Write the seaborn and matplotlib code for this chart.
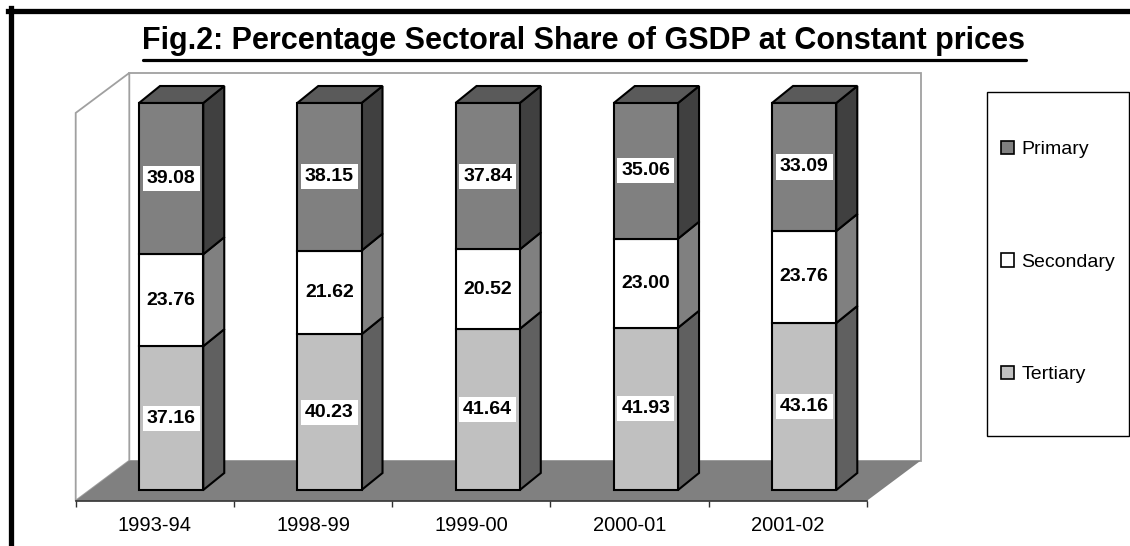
import numpy as np
import pandas as pd
import seaborn as sns
import matplotlib.pyplot as plt
from matplotlib.patches import Polygon, Rectangle, Patch
from matplotlib.lines import Line2D

# data
years = ["1993-94", "1998-99", "1999-00", "2000-01", "2001-02"]
tertiary = [37.16, 40.23, 41.64, 41.93, 43.16]
secondary = [23.76, 21.62, 20.52, 23.00, 23.76]
primary = [39.08, 38.15, 37.84, 35.06, 33.09]
sectors = ["Primary", "Secondary", "Tertiary"]

front_col = {"Tertiary": "#c0c0c0", "Secondary": "#ffffff", "Primary": "#808080"}
side_col = {"Tertiary": "#606060", "Secondary": "#808080", "Primary": "#404040"}
top_col = "#5a5a5a"

sns.set_style("white")
plt.rcParams["font.family"] = ["Liberation Sans", "DejaVu Sans"]
plt.rcParams["text.color"] = "black"
plt.rcParams["xtick.color"] = "black"
plt.rcParams["xtick.labelcolor"] = "black"
narrow = ["Liberation Sans Narrow", "Liberation Sans", "DejaVu Sans"]

W, H = 1130, 546
fig = plt.figure(figsize=(W / 100, H / 100), dpi=100)

def fx(px):
    return px / W

def fy(py):
    return 1 - py / H

ax = fig.add_axes([fx(75.7), fy(500.7), (867 - 75.7) / W, (500.7 - 60) / H])
ax.set_facecolor("none")

# fake 3d geometry (data units)
ppu = 3.87
ylo = -(500.7 - 490) / ppu
yhi = ylo + (500.7 - 60) / ppu
xlo, xhi = -0.5, 4.5
depth_x = 53.6 / 158.26
depth_y = 40 / ppu
bar_dx = 21 / 158.26
bar_dy = 17 / ppu
bar_shift = 0.103
bar_w = 0.406
wall_h = 100.2

df = pd.DataFrame({"Year": years, "Tertiary": tertiary,
                   "Secondary": secondary, "Primary": primary})
bases = {"Tertiary": np.zeros(len(years)),
         "Secondary": df["Tertiary"].to_numpy(),
         "Primary": (df["Tertiary"] + df["Secondary"]).to_numpy()}

# walls + floor
wall_kw = dict(facecolor="white", edgecolor="#a0a0a0", lw=1.3, zorder=0, clip_on=False)
ax.add_patch(Rectangle((xlo + depth_x, ylo + depth_y), xhi - xlo, wall_h, **wall_kw))
ax.add_patch(Polygon([(xlo, ylo), (xlo, ylo + wall_h),
                      (xlo + depth_x, ylo + depth_y + wall_h),
                      (xlo + depth_x, ylo + depth_y)], **wall_kw))
ax.add_patch(Polygon([(xlo, ylo), (xhi, ylo), (xhi + depth_x, ylo + depth_y),
                      (xlo + depth_x, ylo + depth_y)],
                     facecolor="#808080", edgecolor="none", zorder=0.5, clip_on=False))

for sec in ["Tertiary", "Secondary", "Primary"]:
    sns.barplot(data=df, x="Year", y=sec, bottom=bases[sec], color=front_col[sec],
                width=bar_w, saturation=1, errorbar=None, edgecolor="black",
                linewidth=1.5, ax=ax, zorder=3)
    cont = ax.containers[-1]
    for p, v in zip(cont, df[sec]):
        p.set_x(p.get_x() + bar_shift)
        p.set_clip_on(False)
        x0 = p.get_x()
        x1 = x0 + p.get_width()
        y0 = p.get_y()
        y1 = y0 + p.get_height()
        ax.add_patch(Polygon([(x1, y0), (x1, y1), (x1 + bar_dx, y1 + bar_dy),
                              (x1 + bar_dx, y0 + bar_dy)],
                             facecolor=side_col[sec], edgecolor="black", lw=1.5,
                             zorder=2.9, clip_on=False))
        if sec == "Primary":
            ax.add_patch(Polygon([(x0, y1), (x1, y1), (x1 + bar_dx, y1 + bar_dy),
                                  (x0 + bar_dx, y1 + bar_dy)],
                                 facecolor=top_col, edgecolor="black", lw=1.5,
                                 zorder=2.9, clip_on=False))
        ax.text((x0 + x1) / 2, (y0 + y1) / 2, f"{v:.2f}", ha="center", va="center",
                fontsize=14, fontweight="bold", family=narrow, color="black", zorder=5,
                bbox=dict(facecolor="white", edgecolor="none", pad=3))

ax.set_xlim(xlo, xhi)
ax.set_ylim(ylo, yhi)
ax.set_yticks([])
ax.set_xlabel("")
ax.set_ylabel("")
for s in ["left", "right", "top"]:
    ax.spines[s].set_visible(False)
ax.spines["bottom"].set_color("#303030")
ax.spines["bottom"].set_linewidth(1.2)
ax.set_xticks(range(len(years)))
ax.set_xticklabels(years)
ax.set_xticks(np.arange(-0.5, len(years)), minor=True)
ax.tick_params(axis="x", which="major", length=0, labelsize=14.5, pad=11,
               labelcolor="black")
ax.tick_params(axis="x", which="minor", length=4.3, width=1, color="#303030",
               direction="out", bottom=True)

# legend box
fig.patches.append(Rectangle((fx(987), fy(436)), (1129.3 - 987) / W, (436 - 92.3) / H,
                             transform=fig.transFigure, facecolor="white",
                             edgecolor="black", lw=1, zorder=1))
handles = [Patch(facecolor=front_col[s], edgecolor="black", lw=1.2) for s in sectors]
fig.legend(handles, sectors, loc="center left", bbox_to_anchor=(fx(983), fy(262)),
           frameon=False, fontsize=14, handlelength=0.68, handleheight=0.68,
           handletextpad=0.4, labelspacing=4.89, labelcolor="black")

# title with underline
t = fig.text(fx(584), fy(41), "Fig.2: Percentage Sectoral Share of GSDP at Constant prices",
             ha="center", va="center", fontsize=22, fontweight="bold", color="black")
fig.canvas.draw()
bb = t.get_window_extent()
fig.add_artist(Line2D([bb.x0 / W, bb.x1 / W], [fy(59.5), fy(59.5)], lw=2.3, color="black",
                      transform=fig.transFigure))

# outer frame (top + left only)
fig.add_artist(Line2D([fx(8), 1], [fy(11), fy(11)], lw=3.8, color="black",
                      transform=fig.transFigure, solid_capstyle="projecting"))
fig.add_artist(Line2D([fx(11), fx(11)], [fy(8), 0], lw=3.8, color="black",
                      transform=fig.transFigure, solid_capstyle="projecting"))

fig.savefig("out.png", dpi=100)
